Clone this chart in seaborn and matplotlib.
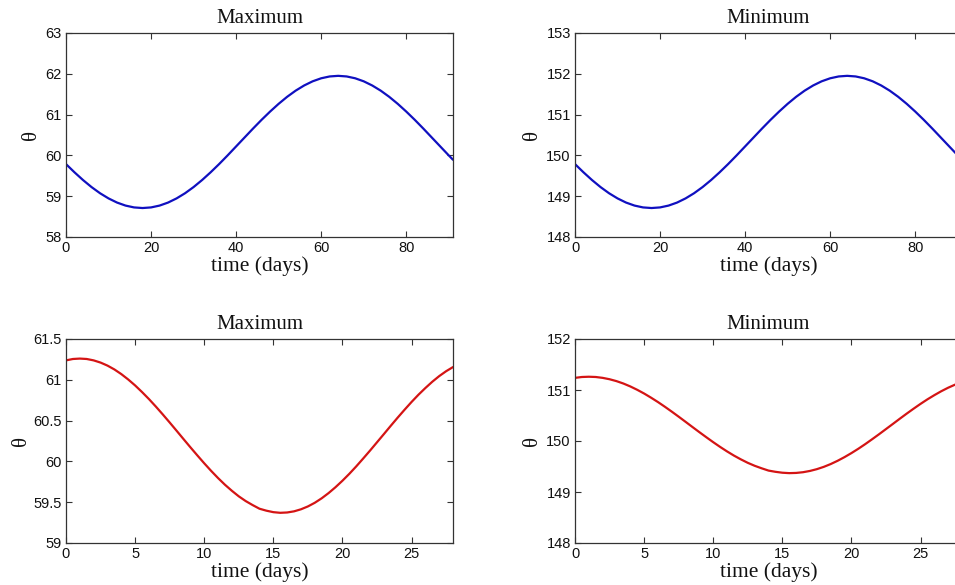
import matplotlib
matplotlib.use("Agg")
import matplotlib.pyplot as plt
import seaborn as sns
import pandas as pd
from matplotlib.ticker import FormatStrFormatter

# ---- data ----
t_long = [0, 2, 4, 6, 8, 10, 12, 14, 16, 18, 20, 22, 24, 26, 28, 30, 32, 34, 36, 38,
          40, 42, 44, 46, 48, 50, 52, 54, 56, 58, 60, 62, 64, 66, 68, 70, 72, 74, 76,
          78, 80, 82, 84, 86, 88, 90, 91]
max_long = [59.787, 59.585, 59.396, 59.224, 59.073, 58.946, 58.844, 58.770, 58.725, 58.710,
            58.725, 58.770, 58.844, 58.946, 59.073, 59.224, 59.396, 59.585, 59.787, 60.000,
            60.220, 60.440, 60.660, 60.873, 61.075, 61.264, 61.436, 61.587, 61.714, 61.816,
            61.890, 61.935, 61.950, 61.935, 61.890, 61.816, 61.714, 61.587, 61.436, 61.264,
            61.075, 60.873, 60.660, 60.440, 60.220, 60.000, 59.893]
min_long = [149.787, 149.585, 149.396, 149.224, 149.073, 148.946, 148.844, 148.770, 148.725, 148.710,
            148.725, 148.770, 148.844, 148.946, 149.073, 149.224, 149.396, 149.585, 149.787, 150.000,
            150.220, 150.440, 150.660, 150.873, 151.075, 151.264, 151.436, 151.587, 151.714, 151.816,
            151.890, 151.935, 151.950, 151.935, 151.890, 151.816, 151.714, 151.587, 151.436, 151.264,
            151.075, 150.873, 150.660, 150.440, 150.220, 150.000, 149.893]

t_short = [0, 0.5, 1, 1.5, 2, 2.5, 3, 3.5, 4, 4.5, 5, 5.5, 6, 6.5, 7, 7.5, 8, 8.5, 9, 9.5,
           10, 10.5, 11, 11.5, 12, 12.5, 13, 13.5, 14, 14.5, 15, 15.5, 16, 16.5, 17, 17.5,
           18, 18.5, 19, 19.5, 20, 20.5, 21, 21.5, 22, 22.5, 23, 23.5, 24, 24.5, 25, 25.5,
           26, 26.5, 27, 27.5, 28]
max_short = [61.238, 61.255, 61.260, 61.255, 61.238, 61.211, 61.174, 61.127, 61.070, 61.004,
             60.931, 60.850, 60.764, 60.672, 60.576, 60.477, 60.376, 60.274, 60.173, 60.074,
             59.977, 59.884, 59.796, 59.714, 59.640, 59.572, 59.514, 59.465, 59.420, 59.396,
             59.378, 59.370, 59.374, 59.388, 59.413, 59.448, 59.493, 59.548, 59.612, 59.684,
             59.763, 59.848, 59.939, 60.035, 60.133, 60.234, 60.335, 60.437, 60.537, 60.634,
             60.728, 60.817, 60.899, 60.976, 61.045, 61.105, 61.156]
min_short = [151.238, 151.255, 151.260, 151.255, 151.238, 151.211, 151.174, 151.127, 151.070, 151.004,
             150.931, 150.850, 150.764, 150.672, 150.576, 150.477, 150.376, 150.274, 150.173, 150.074,
             149.977, 149.884, 149.796, 149.714, 149.640, 149.572, 149.514, 149.465, 149.420, 149.396,
             149.378, 149.370, 149.374, 149.388, 149.413, 149.448, 149.493, 149.548, 149.612, 149.684,
             149.763, 149.848, 149.939, 150.035, 150.133, 150.234, 150.335, 150.437, 150.537, 150.634,
             150.728, 150.817, 150.899, 150.976, 151.045, 151.105, 151.156]

titles = ["Maximum", "Minimum", "Maximum", "Minimum"]
xlabel = "time (days)"
ylabel = "\u03b8"
top_xticks = [0, 20, 40, 60, 80]
bot_xticks = [0, 5, 10, 15, 20, 25]
yticks_tl = [58, 59, 60, 61, 62, 63]
yticks_tr = [148, 149, 150, 151, 152, 153]
yticks_bl = [59, 59.5, 60, 60.5, 61, 61.5]
yticks_br = [148, 149, 150, 151, 152]

sns.set_theme(style="ticks")
plt.rcParams["font.family"] = ["Liberation Sans", "DejaVu Sans"]

W, H = 955, 585
fig = plt.figure(figsize=(W / 100, H / 100), dpi=100)
fig.patch.set_facecolor("white")

def frac(l, t, r, b):
    return [l / W, 1 - b / H, (r - l) / W, (b - t) / H]

axes = [
    fig.add_axes(frac(66, 33, 453, 237)),
    fig.add_axes(frac(575, 33, 962, 237)),
    fig.add_axes(frac(66, 339, 453, 543)),
    fig.add_axes(frac(575, 339, 962, 543)),
]

blue = "#1010c0"
red = "#d41414"
specs = [
    (t_long, max_long, blue, (0, 91), (58, 63), top_xticks, yticks_tl, -0.064),
    (t_long, min_long, blue, (0, 91), (148, 153), top_xticks, yticks_tr, -0.084),
    (t_short, max_short, red, (0, 28), (59, 61.5), bot_xticks, yticks_bl, -0.090),
    (t_short, min_short, red, (0, 28), (148, 152), bot_xticks, yticks_br, -0.084),
]

serif = ["Liberation Serif", "DejaVu Serif"]
for ax, title, (x, y, c, xl, yl, xt, yt, ylx) in zip(axes, titles, specs):
    df = pd.DataFrame({"t": x, "v": y})
    sns.lineplot(data=df, x="t", y="v", ax=ax, color=c, linewidth=1.6)
    ax.set_facecolor("white")
    ax.set_xlim(*xl)
    ax.set_ylim(*yl)
    ax.set_xticks(xt)
    ax.set_yticks(yt)
    ax.yaxis.set_major_formatter(FormatStrFormatter("%g"))
    ax.tick_params(direction="in", top=True, right=True, length=4, width=0.8,
                   color="#333333", labelsize=10.5, pad=3, labelcolor="#111111")
    for s in ax.spines.values():
        s.set_color("#333333")
        s.set_linewidth(0.9)
    ax.set_title(title, family=serif, fontsize=15, pad=7, color="#111111")
    ax.set_xlabel(xlabel, family=serif, fontsize=15.5, labelpad=1, color="#111111")
    ax.set_ylabel(ylabel, family=serif, fontsize=15, color="#111111")
    ax.yaxis.set_label_coords(ylx, 0.5)
    ax.grid(False)

fig.savefig("out.png", dpi=100, facecolor="white")
